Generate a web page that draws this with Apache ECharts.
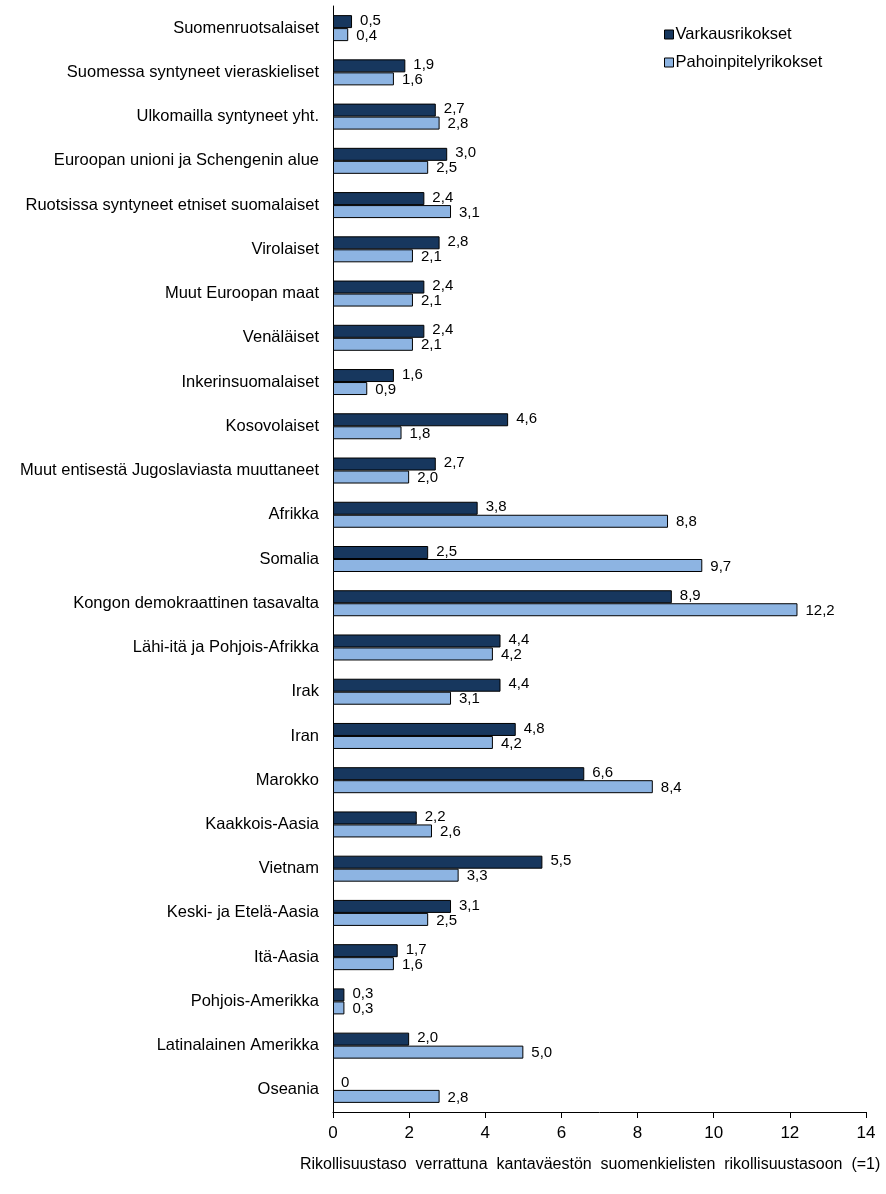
<!DOCTYPE html>
<html><head><meta charset="utf-8">
<script src="https://cdn.jsdelivr.net/npm/echarts@6/dist/echarts.min.js"></script>
<style>html,body{margin:0;padding:0;background:#fff}#c{width:886px;height:1194px}</style>
</head><body><div id="c"></div>
<script>
var categories = ["Suomenruotsalaiset","Suomessa syntyneet vieraskieliset","Ulkomailla syntyneet yht.","Euroopan unioni ja Schengenin alue","Ruotsissa syntyneet etniset suomalaiset","Virolaiset","Muut Euroopan maat","Venäläiset","Inkerinsuomalaiset","Kosovolaiset","Muut entisestä Jugoslaviasta muuttaneet","Afrikka","Somalia","Kongon demokraattinen tasavalta","Lähi-itä ja Pohjois-Afrikka","Irak","Iran","Marokko","Kaakkois-Aasia","Vietnam","Keski- ja Etelä-Aasia","Itä-Aasia","Pohjois-Amerikka","Latinalainen Amerikka","Oseania"];
var varkaus = [0.5,1.9,2.7,3.0,2.4,2.8,2.4,2.4,1.6,4.6,2.7,3.8,2.5,8.9,4.4,4.4,4.8,6.6,2.2,5.5,3.1,1.7,0.3,2.0,0];
var pahoinpitely = [0.4,1.6,2.8,2.5,3.1,2.1,2.1,2.1,0.9,1.8,2.0,8.8,9.7,12.2,4.2,3.1,4.2,8.4,2.6,3.3,2.5,1.6,0.3,5.0,2.8];
var xTicks = [0,2,4,6,8,10,12,14];
var seriesNames = ["Varkausrikokset","Pahoinpitelyrikokset"];
var axisTitle = "Rikollisuustaso  verrattuna  kantaväestön  suomenkielisten  rikollisuustasoon  (=1)";

var font = "'Liberation Sans', Arial, sans-serif";
function fmt(p){ return p.value === 0 ? "0" : p.value.toFixed(1).replace('.', ','); }
function items(arr){
  return arr.map(function(v){
    return v === 0 ? {value: v, itemStyle: {borderWidth: 0, opacity: 0}, label: {opacity: 1}} : v;
  });
}
var chart = echarts.init(document.getElementById('c'));
chart.setOption({
  animation: false,
  textStyle: {fontFamily: font},
  grid: {left: 333, right: 20, top: 6, bottom: 82, containLabel: false},
  legend: {
    orient: 'vertical', left: 659, top: 21, itemWidth: 9, itemHeight: 9, itemGap: 11,
    icon: 'rect',
    itemStyle: {borderColor: '#000', borderWidth: 1},
    textStyle: {fontFamily: font, fontSize: 16.5, color: '#000', padding: [0,0,0,-3]},
    data: seriesNames
  },
  xAxis: {
    type: 'value', min: xTicks[0], max: xTicks[xTicks.length-1], interval: 2,
    axisLine: {show: true, lineStyle: {color: '#000', width: 1}},
    axisTick: {show: true, length: 6, lineStyle: {color: '#000'}},
    axisLabel: {fontFamily: font, fontSize: 17, color: '#000', margin: 13},
    splitLine: {show: false}
  },
  yAxis: {
    type: 'category', data: categories, inverse: true,
    axisLine: {show: true, lineStyle: {color: '#000', width: 1}},
    axisTick: {show: false},
    axisLabel: {fontFamily: font, fontSize: 16.5, color: '#000', margin: 14}
  },
  series: [
    {name: seriesNames[0], type: 'bar', data: items(varkaus), barWidth: 13, barGap: '0%',
     itemStyle: {color: '#17375E', borderColor: '#000', borderWidth: 1},
     label: {show: true, position: 'right', distance: 8, formatter: fmt, fontFamily: font, fontSize: 15, color: '#000', offset: [0,-1]}},
    {name: seriesNames[1], type: 'bar', data: items(pahoinpitely), barWidth: 13,
     itemStyle: {color: '#8DB4E2', borderColor: '#000', borderWidth: 1},
     label: {show: true, position: 'right', distance: 8, formatter: fmt, fontFamily: font, fontSize: 15, color: '#000', offset: [0,1]}}
  ],
  graphic: [{
    type: 'text', left: 300, top: 1157,
    style: {text: axisTitle, fontFamily: font, fontSize: 16, fill: '#000'}
  }]
});
</script></body></html>
